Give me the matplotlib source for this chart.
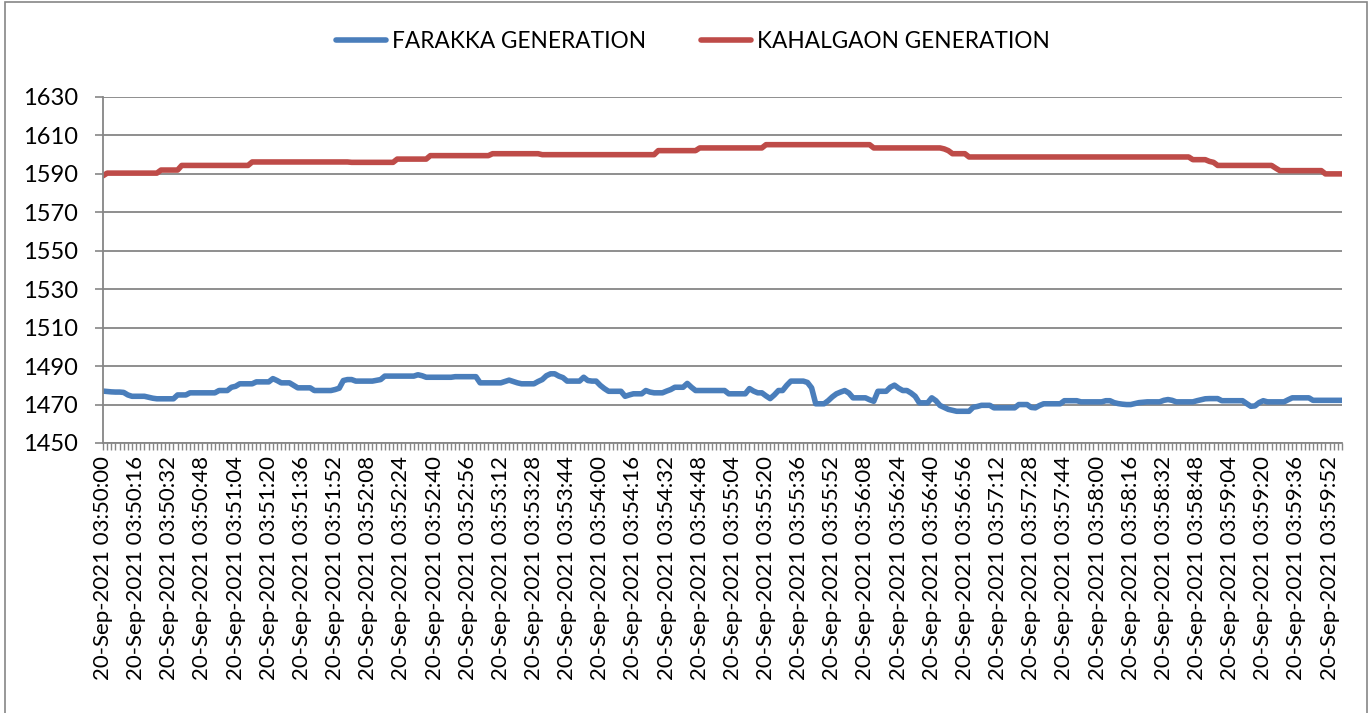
import matplotlib
matplotlib.use("Agg")
import matplotlib.pyplot as plt
from matplotlib.patches import Rectangle
import pandas as pd

# readings every 2 seconds, 03:50:00 .. 03:59:58
times = pd.date_range("2021-09-20 03:50:00", periods=300, freq="2s")
tick_labels = [t.strftime("%d-%b-%Y %H:%M:%S") for t in times]

farakka = [
    1477, 1476.8, 1476.6, 1476.5, 1476.5, 1476.3, 1475, 1474.3, 1474.3, 1474.3, 1474.3, 1473.8, 1473.3, 1473, 1473, 1473, 1473, 1473, 1475, 1475,
    1475, 1476.1, 1476.1, 1476.1, 1476.1, 1476.1, 1476.1, 1476.1, 1477.3, 1477.3, 1477.3, 1479, 1479.5, 1480.8, 1480.8, 1480.8, 1480.8, 1481.8, 1481.8, 1481.8,
    1481.8, 1483.5, 1482.5, 1481.3, 1481.3, 1481.3, 1480, 1478.7, 1478.7, 1478.7, 1478.7, 1477.3, 1477.3, 1477.3, 1477.3, 1477.3, 1477.8, 1478.5, 1482.5, 1483,
    1483, 1482.2, 1482.2, 1482.2, 1482.2, 1482.2, 1482.6, 1483, 1484.8, 1484.8, 1484.8, 1484.8, 1484.8, 1484.8, 1484.8, 1484.8, 1485.5, 1485, 1484.2, 1484.2,
    1484.2, 1484.2, 1484.2, 1484.2, 1484.2, 1484.5, 1484.5, 1484.5, 1484.5, 1484.5, 1484.5, 1481.3, 1481.3, 1481.3, 1481.3, 1481.3, 1481.3, 1482, 1482.7, 1482,
    1481.3, 1480.8, 1480.8, 1480.8, 1480.8, 1482, 1483, 1485, 1486, 1486, 1484.8, 1484, 1482.2, 1482.2, 1482.2, 1482.2, 1484.2, 1482.5, 1482.2, 1482.2,
    1480, 1478.3, 1476.9, 1476.9, 1476.9, 1476.9, 1474.3, 1475, 1475.6, 1475.6, 1475.6, 1477.3, 1476.5, 1476.1, 1476.1, 1476.1, 1477, 1477.8, 1479, 1479,
    1479, 1481, 1479, 1477.3, 1477.3, 1477.3, 1477.3, 1477.3, 1477.3, 1477.3, 1477.3, 1475.6, 1475.6, 1475.6, 1475.6, 1475.6, 1478.3, 1477, 1476.1, 1476.1,
    1474.5, 1473.1, 1475, 1477.3, 1477.3, 1480, 1482.2, 1482.2, 1482.2, 1482.2, 1481.5, 1478.7, 1470.4, 1470.4, 1470.4, 1472, 1474, 1475.6, 1476.5, 1477.3,
    1476, 1473.5, 1473.5, 1473.5, 1473.5, 1472.5, 1471.7, 1476.9, 1476.9, 1476.9, 1479, 1480.1, 1478.5, 1477.3, 1477.3, 1476, 1474.3, 1470.9, 1470.9, 1470.9,
    1473.5, 1472, 1469.5, 1468.5, 1467.5, 1467, 1466.5, 1466.5, 1466.5, 1466.5, 1468.6, 1469, 1469.6, 1469.6, 1469.6, 1468.3, 1468.3, 1468.3, 1468.3, 1468.3,
    1468.3, 1470, 1470, 1470, 1468.5, 1468.3, 1469.5, 1470.4, 1470.4, 1470.4, 1470.4, 1470.4, 1472, 1472, 1472, 1472, 1471.4, 1471.4, 1471.4, 1471.4,
    1471.4, 1471.4, 1472, 1472, 1471, 1470.5, 1470.2, 1470, 1470, 1470.5, 1471, 1471.2, 1471.4, 1471.4, 1471.4, 1471.4, 1472.2, 1472.6, 1472.2, 1471.4,
    1471.4, 1471.4, 1471.4, 1471.4, 1472, 1472.5, 1473, 1473.1, 1473.1, 1473.1, 1472, 1472, 1472, 1472, 1472, 1472, 1470.5, 1469.1, 1469.3, 1471,
    1472, 1471.4, 1471.4, 1471.4, 1471.4, 1471.4, 1472.5, 1473.5, 1473.5, 1473.5, 1473.5, 1473.5, 1472.2, 1472.2, 1472.2, 1472.2, 1472.2, 1472.2, 1472.2, 1472.2,
]

kahalgaon = [
    1589, 1590.4, 1590.4, 1590.4, 1590.4, 1590.4, 1590.4, 1590.4, 1590.4, 1590.4, 1590.4, 1590.4, 1590.4, 1590.4, 1592, 1592, 1592, 1592, 1592, 1594.4,
    1594.4, 1594.4, 1594.4, 1594.4, 1594.4, 1594.4, 1594.4, 1594.4, 1594.4, 1594.4, 1594.4, 1594.4, 1594.4, 1594.4, 1594.4, 1594.4, 1596.2, 1596.2, 1596.2, 1596.2,
    1596.2, 1596.2, 1596.2, 1596.2, 1596.2, 1596.2, 1596.2, 1596.2, 1596.2, 1596.2, 1596.2, 1596.2, 1596.2, 1596.2, 1596.2, 1596.2, 1596.2, 1596.2, 1596.2, 1596.2,
    1596, 1596, 1596, 1596, 1596, 1596, 1596, 1596, 1596, 1596, 1596, 1597.7, 1597.7, 1597.7, 1597.7, 1597.7, 1597.7, 1597.7, 1597.7, 1599.5,
    1599.5, 1599.5, 1599.5, 1599.5, 1599.5, 1599.5, 1599.5, 1599.5, 1599.5, 1599.5, 1599.5, 1599.5, 1599.5, 1599.5, 1600.5, 1600.5, 1600.5, 1600.5, 1600.5, 1600.5,
    1600.5, 1600.5, 1600.5, 1600.5, 1600.5, 1600.5, 1600, 1600, 1600, 1600, 1600, 1600, 1600, 1600, 1600, 1600, 1600, 1600, 1600, 1600,
    1600, 1600, 1600, 1600, 1600, 1600, 1600, 1600, 1600, 1600, 1600, 1600, 1600, 1600, 1602.1, 1602.1, 1602.1, 1602.1, 1602.1, 1602.1,
    1602.1, 1602.1, 1602.1, 1602.1, 1603.5, 1603.5, 1603.5, 1603.5, 1603.5, 1603.5, 1603.5, 1603.5, 1603.5, 1603.5, 1603.5, 1603.5, 1603.5, 1603.5, 1603.5, 1603.5,
    1605.2, 1605.2, 1605.2, 1605.2, 1605.2, 1605.2, 1605.2, 1605.2, 1605.2, 1605.2, 1605.2, 1605.2, 1605.2, 1605.2, 1605.2, 1605.2, 1605.2, 1605.2, 1605.2, 1605.2,
    1605.2, 1605.2, 1605.2, 1605.2, 1605.2, 1605.2, 1603.5, 1603.5, 1603.5, 1603.5, 1603.5, 1603.5, 1603.5, 1603.5, 1603.5, 1603.5, 1603.5, 1603.5, 1603.5, 1603.5,
    1603.5, 1603.5, 1603.5, 1603, 1602.1, 1600.5, 1600.5, 1600.5, 1600.5, 1598.8, 1598.8, 1598.8, 1598.8, 1598.8, 1598.8, 1598.8, 1598.8, 1598.8, 1598.8, 1598.8,
    1598.8, 1598.8, 1598.8, 1598.8, 1598.8, 1598.8, 1598.8, 1598.8, 1598.8, 1598.8, 1598.8, 1598.8, 1598.8, 1598.8, 1598.8, 1598.8, 1598.8, 1598.8, 1598.8, 1598.8,
    1598.8, 1598.8, 1598.8, 1598.8, 1598.8, 1598.8, 1598.8, 1598.8, 1598.8, 1598.8, 1598.8, 1598.8, 1598.8, 1598.8, 1598.8, 1598.8, 1598.8, 1598.8, 1598.8, 1598.8,
    1598.8, 1598.8, 1598.8, 1597.4, 1597.4, 1597.4, 1597.4, 1596.5, 1596, 1594.4, 1594.4, 1594.4, 1594.4, 1594.4, 1594.4, 1594.4, 1594.4, 1594.4, 1594.4, 1594.4,
    1594.4, 1594.4, 1594.4, 1593, 1591.7, 1591.7, 1591.7, 1591.7, 1591.7, 1591.7, 1591.7, 1591.7, 1591.7, 1591.7, 1591.7, 1590, 1590, 1590, 1590, 1590,
]

y_ticks = list(range(1450, 1631, 20))

plt.rcParams['font.family'] = ['Lato', 'DejaVu Sans']
grey = '#868686'

fig = plt.figure(figsize=(13.7, 7.13), dpi=100)
ax = fig.add_axes([103 / 1370, 1 - 443 / 713, (1342 - 103) / 1370, (443 - 97) / 713])

# outer chart border
fig.patches.append(Rectangle((5 / 1370, -0.01), 1362 / 1370, 1.0 - 2 / 713 + 0.01,
                             transform=fig.transFigure, fill=False,
                             edgecolor=grey, linewidth=1.2))

x = list(range(len(times)))
ax.plot(x, farakka, color='#4A7EBB', linewidth=4, solid_joinstyle='round',
        solid_capstyle='round', label='FARAKKA GENERATION')
ax.plot(x, kahalgaon, color='#BE4B48', linewidth=4, solid_joinstyle='round',
        solid_capstyle='round', label='KAHALGAON GENERATION')

ax.set_xlim(0, len(times) - 1)
ax.set_ylim(1450, 1630)
ax.set_yticks(y_ticks)
ax.set_xticks(x)
ax.set_xticklabels([lbl if i % 8 == 0 else '' for i, lbl in enumerate(tick_labels)],
                   rotation=90, fontsize=16)
ax.tick_params(axis='x', length=5, width=1, color=grey, pad=4)
ax.tick_params(axis='y', length=6, width=1.2, color=grey, labelsize=17, pad=12)

ax.grid(axis='y', color=grey, linewidth=1.3)
ax.set_axisbelow(True)
for side in ['top', 'right']:
    ax.spines[side].set_visible(False)
for side in ['left', 'bottom']:
    ax.spines[side].set_color(grey)
    ax.spines[side].set_linewidth(1.3)

fig.legend(loc='center', bbox_to_anchor=(693 / 1370, 1 - 41 / 713), ncol=2, frameon=False,
           fontsize=16.3, handlelength=2.2, handletextpad=0.3, columnspacing=2.4)

fig.savefig('out.png', dpi=100)
